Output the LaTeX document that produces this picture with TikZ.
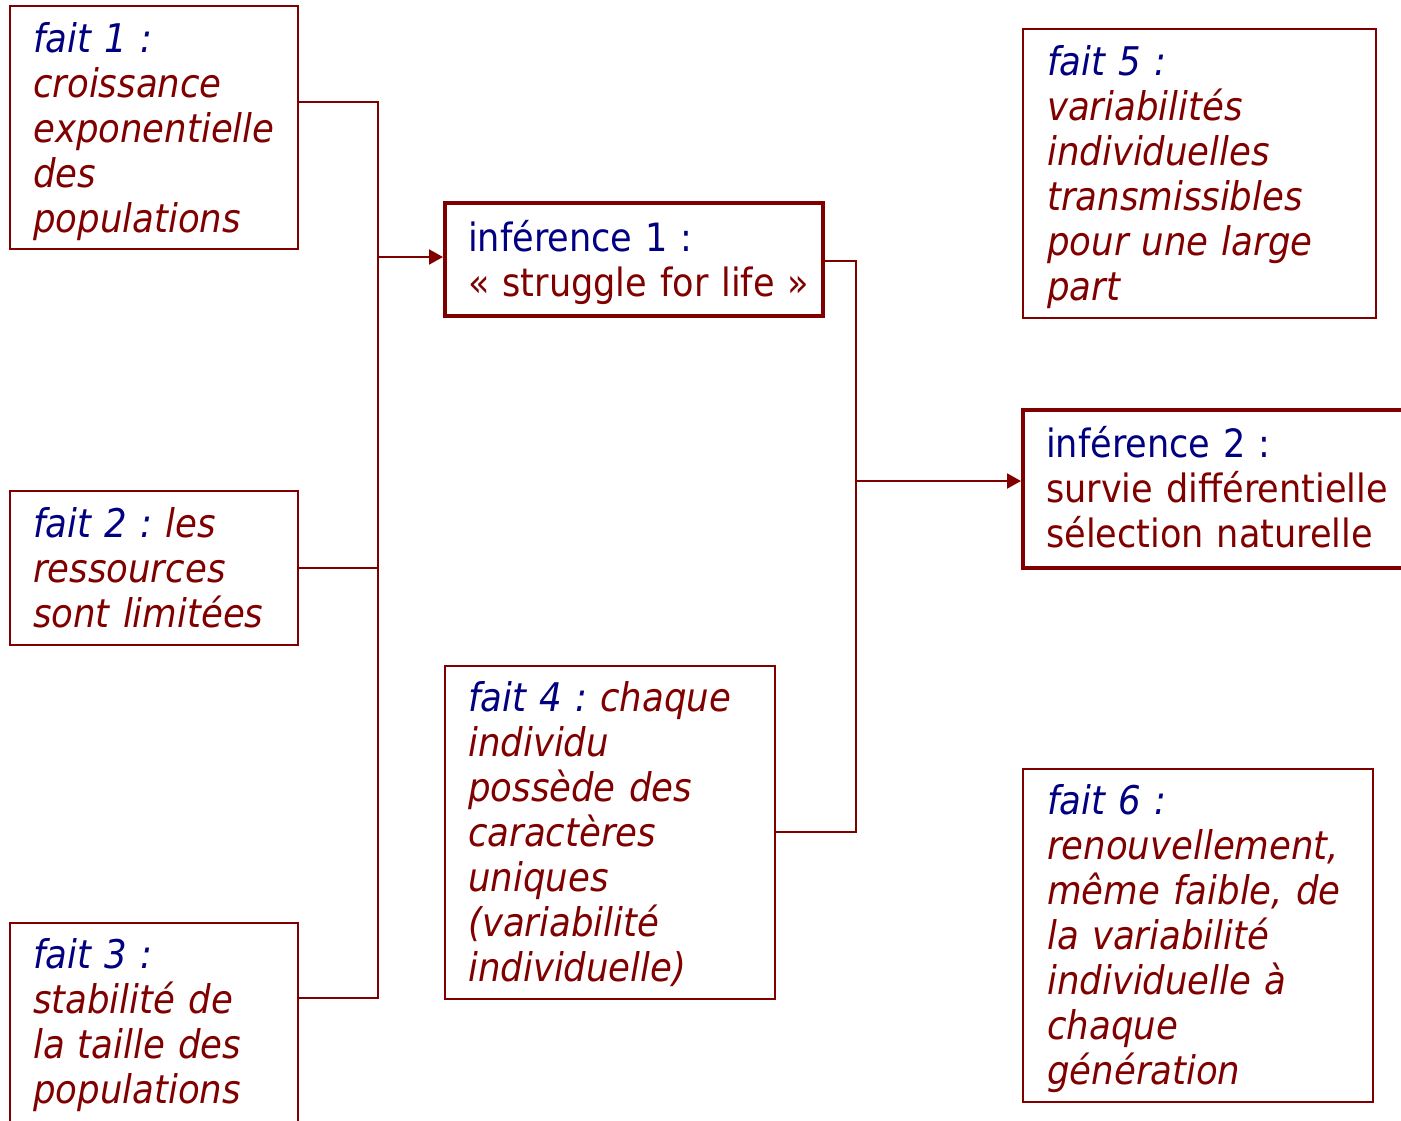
\documentclass[tikz,border=0pt]{standalone}
\usepackage{fontspec}
\setmainfont{DejaVu Sans Condensed}
\usetikzlibrary{arrows.meta,calc}
\definecolor{maroon}{HTML}{800000}
\definecolor{navyblue}{HTML}{000080}
\newcommand{\hd}[1]{{\color{navyblue}#1}}
\frenchspacing

\begin{document}
\begin{tikzpicture}[x=1pt,y=-1pt,
  factbox/.style={draw=maroon, line width=2pt, rectangle, inner sep=0pt},
  inferbox/.style={draw=maroon, line width=4pt, rectangle, inner sep=0pt},
  facttext/.style={anchor=base west, inner sep=0pt, text width=#1, align=left,
    text=maroon, font=\fontsize{39.5}{45}\selectfont\itshape},
  infertext/.style={anchor=base west, inner sep=0pt, text width=#1, align=left,
    text=maroon, font=\fontsize{39}{45}\selectfont},
  conn/.style={draw=maroon, line width=2pt},
  arr/.style={conn, -{Triangle[length=14pt,width=15pt]}}
]
\useasboundingbox (0,0) rectangle (1401,1120);
\clip (0,0) rectangle (1401,1120);

% boxes
\node[factbox, minimum width=288, minimum height=243] (f1) at (154,127.5) {};
\node[factbox, minimum width=288, minimum height=154] (f2) at (154,568) {};
\node[factbox, minimum width=288, minimum height=214] (f3) at (154,1030) {};
\node[factbox, minimum width=330, minimum height=333] (f4) at (610,832.5) {};
\node[factbox, minimum width=353, minimum height=289] (f5) at (1199.5,173.5) {};
\node[factbox, minimum width=350, minimum height=333] (f6) at (1198,935.5) {};
\node[inferbox, minimum width=378, minimum height=113] (i1) at (634,259.5) {};
\node[inferbox, minimum width=390, minimum height=158] (i2) at (1218,489) {};

% texts
\node[facttext=270] at (33,52) {\hd{fait 1 :}\\croissance\\exponentielle\\des\\populations};
\node[facttext=270] at (33,537) {\hd{fait 2 :} les\\ressources\\sont limitées};
\node[facttext=270] at (33,968) {\hd{fait 3 :}\\stabilité de\\la taille des\\populations};
\node[facttext=310] at (468,711) {\hd{fait 4 :} chaque\\individu\\possède des\\caractères\\uniques\\(variabilité\\individuelle)};
\node[facttext=330] at (1047,75) {\hd{fait 5 :}\\variabilités\\individuelles\\transmissibles\\pour une large\\part};
\node[facttext=330] at (1047,814) {\hd{fait 6 :}\\renouvellement,\\même faible, de\\la variabilité\\individuelle à\\chaque\\génération};
\node[infertext=360] at (468,251) {\hd{inférence 1 :}\\« struggle for life »};
\node[infertext=360] at (1046,457) {\hd{inférence 2 :}\\survie différentielle\\sélection naturelle};

% connectors
\coordinate (busLtop) at (378,102);
\coordinate (busLbot) at (378,998);
\coordinate (busRtop) at (856,261);
\coordinate (busRbot) at (856,832);
\draw[conn] (f1.east |- busLtop) -- (busLtop) -- (busLbot) -- (f3.east |- busLbot);
\draw[conn] (f2.east) -- (f2.east -| busLtop);
\draw[arr] (busLtop |- 0,257) -- (i1.west |- 0,257);
\draw[conn] (i1.east |- busRtop) -- (busRtop) -- (busRbot) -- (f4.east |- busRbot);
\draw[arr] (busRtop |- 0,481) -- (i2.west |- 0,481);
\end{tikzpicture}
\end{document}
